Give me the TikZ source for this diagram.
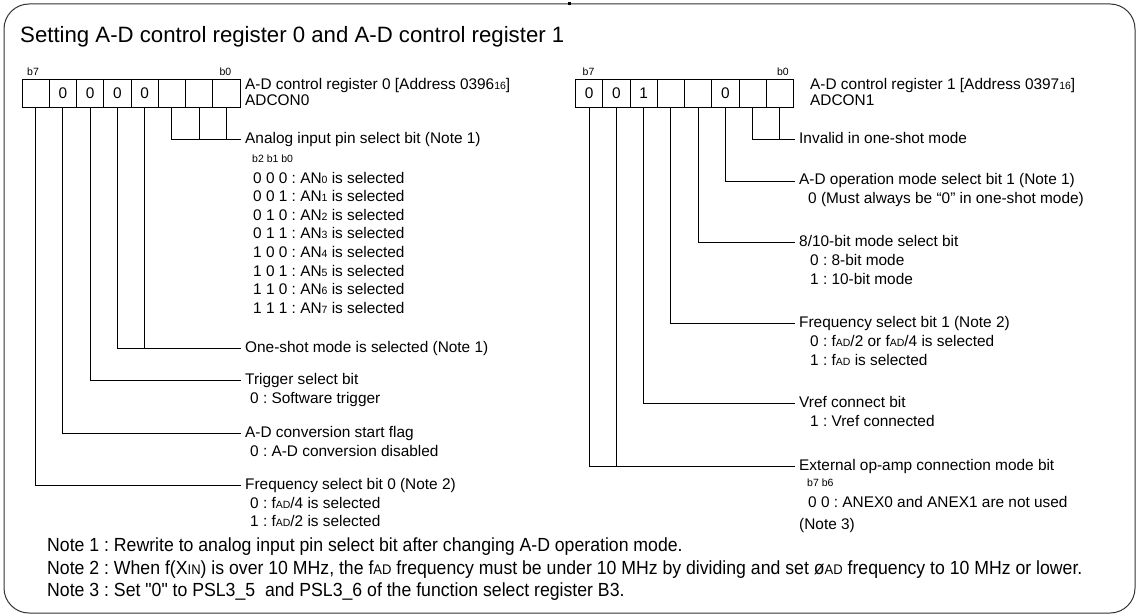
\documentclass[tikz,border=0pt]{standalone}
\usepackage{fontspec}
\setmainfont{Liberation Sans}
\newfontfamily\notefont[FakeStretch=0.93]{Liberation Sans}
\usetikzlibrary{positioning}
\newcommand\regfont{\fontsize{15.4}{18.5}\selectfont}
\newcommand\bitfont{\fontsize{10.5}{12}\selectfont}
\newcommand\lo[1]{{\fontsize{10.5}{10}\selectfont #1}}
\newcommand\nlo[1]{{\fontsize{14}{14}\selectfont #1}}
\frenchspacing

\begin{document}
\begin{tikzpicture}[x=1pt,y=-1pt,
  cell/.style={draw,line width=0.9pt,minimum width=27.25pt,minimum height=28pt,
               inner sep=0pt,font=\regfont},
  lbl/.style={anchor=west,inner xsep=4pt,inner ysep=0pt,text height=11pt,
              text depth=3pt,font=\regfont},
  bitno/.style={inner sep=0pt,font=\bitfont},
  note/.style={anchor=west,inner sep=0pt,font=\notefont\fontsize{19}{22}\selectfont},
  leader/.style={line width=0.9pt}]
  \useasboundingbox (0,0) rectangle (1138,615);
  % Frame and heading
  \draw[line width=1pt,black!80,rounded corners=25pt] (4,4) rectangle (1135,613);
  \fill (567.5,2) rectangle (570.5,5.5);
  \node[anchor=west,inner sep=0pt,font=\fontsize{22.2}{26}\selectfont] (title) at (20,37)
    {Setting A-D control register 0 and A-D control register 1};

  % ADCON0 cells
  \foreach \i/\v in {7/{},6/0,5/0,4/0,3/0,2/{},1/{},0/{}}
    \node[cell] (A\i) at ({35.6+27.25*(7-\i)},93) {\v};
  \node[bitno,anchor=south west] (A7b) at ([xshift=5.5pt,yshift=3pt]A7.north west) {b7};
  \node[bitno,anchor=south east] (A0b) at ([xshift=-9pt,yshift=3pt]A0.north east) {b0};
  \node[lbl] (Ahead) at (241,86) {A-D control register 0 [Address 0396\lo{16}]};
  \node[lbl] (Aname) at (241,102) {ADCON0};

  % ADCON0 bit descriptions
  \node[lbl] (an) at (241,139) {Analog input pin select bit (Note 1)};
  \node[bitno,anchor=west] (anbits) at (252,159) {b2 b1 b0};
  \foreach \c/\n in {0 0 0/0,0 0 1/1,0 1 0/2,0 1 1/3,1 0 0/4,1 0 1/5,1 1 0/6,1 1 1/7}
    \node[lbl] (an\n) at (249,{179+18.6*\n}) {\c{} : AN\lo{\n} is selected};
  \node[lbl] (os) at (241,348) {One-shot mode is selected (Note 1)};
  \node[lbl] (tr) at (241,380) {Trigger select bit};
  \node[lbl] (tr0) at (246,399) {0 : Software trigger};
  \node[lbl] (st) at (241,433) {A-D conversion start flag};
  \node[lbl] (st0) at (246,452) {0 : A-D conversion disabled};
  \node[lbl] (fa) at (241,485) {Frequency select bit 0 (Note 2)};
  \node[lbl] (fa0) at (246,504) {0 : f\lo{AD}/4 is selected};
  \node[lbl] (fa1) at (246,522) {1 : f\lo{AD}/2 is selected};

  % ADCON0 leaders
  \draw[leader] (A2.south) |- (an.west);
  \draw[leader] (A1.south) -- (A1.south |- an.west);
  \draw[leader] (A0.south) -- (A0.south |- an.west);
  \draw[leader] (A4.south) |- (os.west);
  \draw[leader] (A3.south) -- (A3.south |- os.west);
  \draw[leader] (A5.south) |- (tr.west);
  \draw[leader] (A6.south) |- (st.west);
  \draw[leader] (A7.south) |- (fa.west);

  % ADCON1 cells
  \foreach \i/\v in {7/0,6/0,5/1,4/{},3/{},2/0,1/{},0/{}}
    \node[cell] (B\i) at ({589.1+27.25*(7-\i)},93) {\v};
  \node[bitno,anchor=south west] (B7b) at ([xshift=7.5pt,yshift=3pt]B7.north west) {b7};
  \node[bitno,anchor=south east] (B0b) at ([xshift=-5pt,yshift=3pt]B0.north east) {b0};
  \node[lbl] (Bhead) at (806,86) {A-D control register 1 [Address 0397\lo{16}]};
  \node[lbl] (Bname) at (806,102) {ADCON1};

  % ADCON1 bit descriptions
  \node[lbl] (inv) at (795,139) {Invalid in one-shot mode};
  \node[lbl] (op) at (795,181) {A-D operation mode select bit 1 (Note 1)};
  \node[lbl] (op0) at (804,199) {0 (Must always be “0” in one-shot mode)};
  \node[lbl] (bm) at (795,242) {8/10-bit mode select bit};
  \node[lbl] (bm0) at (806,261) {0 : 8-bit mode};
  \node[lbl] (bm1) at (806,280) {1 : 10-bit mode};
  \node[lbl] (fb) at (795,323) {Frequency select bit 1 (Note 2)};
  \node[lbl] (fb0) at (806,342) {0 : f\lo{AD}/2 or f\lo{AD}/4 is selected};
  \node[lbl] (fb1) at (806,361) {1 : f\lo{AD} is selected};
  \node[lbl] (vr) at (795,403) {Vref connect bit};
  \node[lbl] (vr1) at (806,422) {1 : Vref connected};
  \node[lbl] (ex) at (795,466) {External op-amp connection mode bit};
  \node[bitno,anchor=west] (exbits) at (807,483) {b7 b6};
  \node[lbl] (ex0) at (804,503) {0 0 : ANEX0 and ANEX1 are not used};
  \node[lbl] (exn) at (795,525) {(Note 3)};

  % ADCON1 leaders
  \draw[leader] (B1.south) |- (inv.west);
  \draw[leader] (B0.south) -- (B0.south |- inv.west);
  \draw[leader] (B2.south) |- (op.west);
  \draw[leader] (B3.south) |- (bm.west);
  \draw[leader] (B4.south) |- (fb.west);
  \draw[leader] (B5.south) |- (vr.west);
  \draw[leader] (B7.south) |- (ex.west);
  \draw[leader] (B6.south) -- (B6.south |- ex.west);

  % Notes
  \node[note] (n1) at (47,547) {Note 1 : Rewrite to analog input pin select bit after changing A-D operation mode.};
  \node[note] (n2) at (47,570) {Note 2 : When f(X\nlo{IN}) is over 10 MHz, the f\nlo{AD} frequency must be under 10 MHz by dividing and set ø\nlo{AD} frequency to 10 MHz or lower.};
  \node[note] (n3) at (47,592) {Note 3 : Set "0" to PSL3\_5\ \ and PSL3\_6 of the function select register B3.};
\end{tikzpicture}
\end{document}
